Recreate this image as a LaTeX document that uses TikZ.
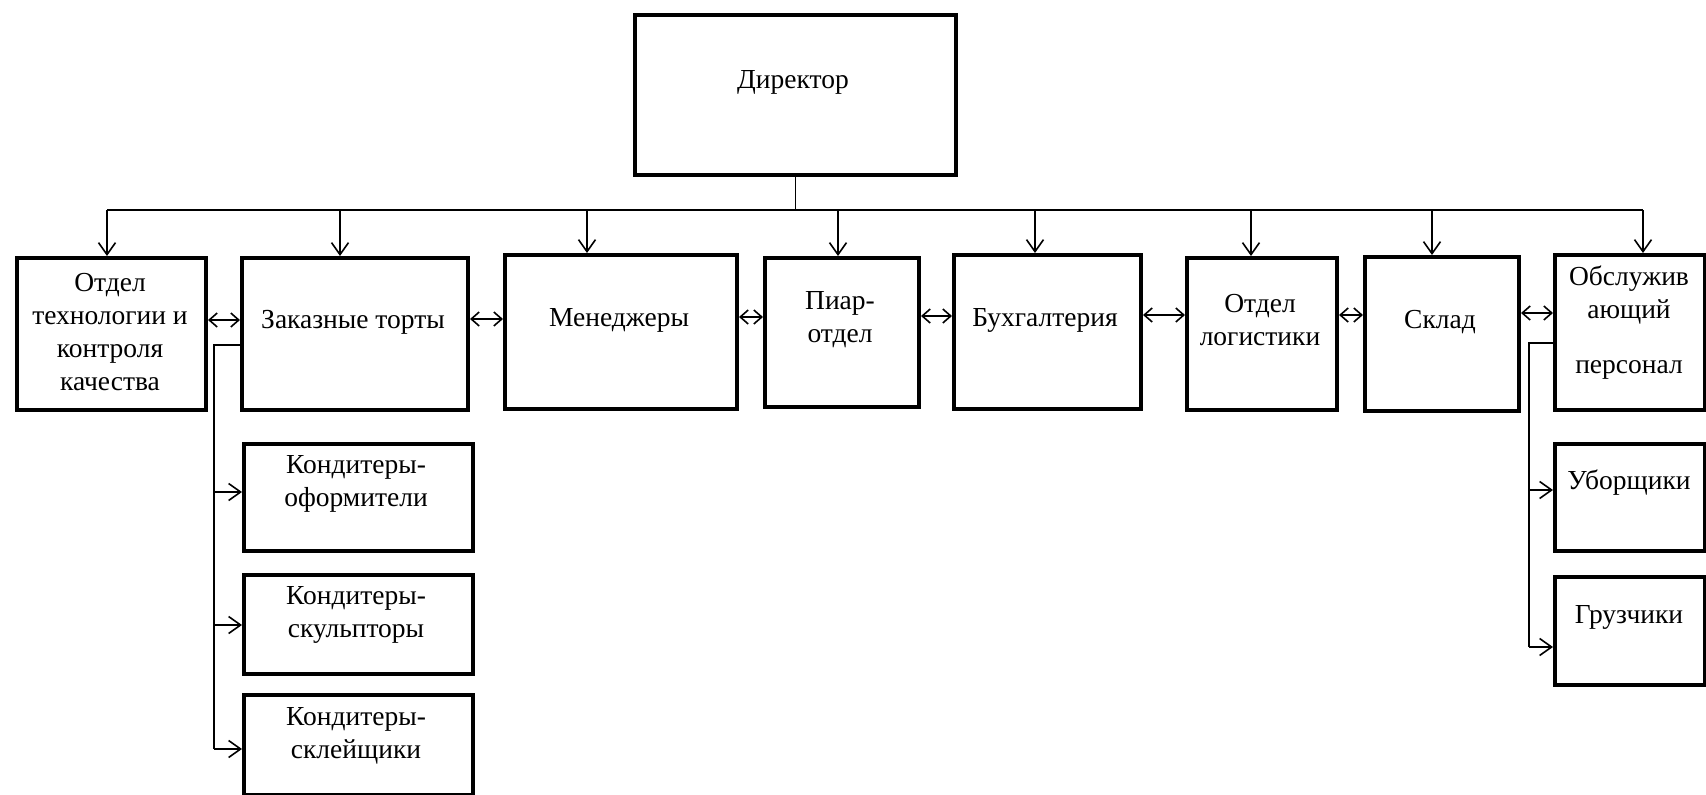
\documentclass[tikz,border=0pt]{standalone}
\usepackage{fontspec}
\setmainfont{Liberation Serif}
\usetikzlibrary{arrows.meta}
\begin{document}
\begin{tikzpicture}[x=1pt,y=-1pt,
  box/.style={draw=black,line width=4pt,inner sep=0pt,anchor=north west,fill=white},
  lbl/.style={align=center,font=\fontsize{27.5}{33}\selectfont,inner sep=0pt},
  line/.style={draw=black,line width=1.6pt},
  arr/.style={line,-{Straight Barb[length=12pt,width=17pt,line width=1.6pt]}},
  darr/.style={line,{Straight Barb[length=8pt,width=14pt,line width=1.6pt]}-{Straight Barb[length=8pt,width=14pt,line width=1.6pt]}}]
\useasboundingbox[fill=white] (0,0) rectangle (1706,795);

% boxes
\node[box,minimum width=321,minimum height=160] (dir) at (633,13) {};
\node[box,minimum width=189,minimum height=152] (m1) at (15,256) {};
\node[box,minimum width=226,minimum height=152] (m2) at (240,256) {};
\node[box,minimum width=232,minimum height=154] (m3) at (503,253) {};
\node[box,minimum width=154,minimum height=149] (m4) at (763,256) {};
\node[box,minimum width=187,minimum height=154] (m5) at (952,253) {};
\node[box,minimum width=150,minimum height=152] (m6) at (1185,256) {};
\node[box,minimum width=154,minimum height=154] (m7) at (1363,255) {};
\node[box,minimum width=150,minimum height=155] (m8) at (1553,253) {};
\node[box,minimum width=229,minimum height=107] (k1) at (242,442) {};
\node[box,minimum width=229,minimum height=99] (k2) at (242,573) {};
\node[box,minimum width=229,minimum height=100] (k3) at (242,693) {};
\node[box,minimum width=150,minimum height=107] (u1) at (1553,442) {};
\node[box,minimum width=150,minimum height=108] (u2) at (1553,575) {};

% texts
\node[lbl] (tdir) at (793,82) {Директор};
\node[lbl] (tm1) at (110,332) {Отдел\\технологии и\\контроля\\качества};
\node[lbl] (tm2) at (353,322) {Заказные торты};
\node[lbl] (tm3) at (619,320) {Менеджеры};
\node[lbl] (tm4) at (840,320) {Пиар-\\отдел};
\node[lbl] (tm5) at (1045,320) {Бухгалтерия};
\node[lbl] (tm6) at (1260,320) {Отдел\\логистики};
\node[lbl] (tm7) at (1440,322) {Склад};
\node[lbl] (tm8) at (1629,323) {Обслужив\\ающий\\[22pt]персонал};
\node[lbl] (tk1) at (356,484) {Кондитеры-\\оформители};
\node[lbl] (tk2) at (356,615) {Кондитеры-\\скульпторы};
\node[lbl] (tk3) at (356,736) {Кондитеры-\\склейщики};
\node[lbl] (tu1) at (1629,483) {Уборщики};
\node[lbl] (tu2) at (1629,617) {Грузчики};

% bus
\coordinate (b1) at (107,210);
\coordinate (b2) at (340,210);
\coordinate (b3) at (587,210);
\coordinate (b4) at (838,210);
\coordinate (b5) at (1035,210);
\coordinate (b6) at (1251,210);
\coordinate (b7) at (1432,210);
\coordinate (b8) at (1643,210);
\draw[line] (dir.south) -- (dir.south |- b1);
\draw[line] (b1) -- (b8);
\draw[arr] (b1) -- (b1 |- m1.north);
\draw[arr] (b2) -- (b2 |- m2.north);
\draw[arr] (b3) -- (b3 |- m3.north);
\draw[arr] (b4) -- (b4 |- m4.north);
\draw[arr] (b5) -- (b5 |- m5.north);
\draw[arr] (b6) -- (b6 |- m6.north);
\draw[arr] (b7) -- (b7 |- m7.north);
\draw[arr] (b8) -- (b8 |- m8.north);

% double arrows
\coordinate (h12) at (0,320);
\coordinate (h23) at (0,319);
\coordinate (h34) at (0,317);
\coordinate (h45) at (0,316);
\coordinate (h56) at (0,315);
\coordinate (h67) at (0,315);
\coordinate (h78) at (0,313);
\draw[darr] (h12 -| m1.east) -- (h12 -| m2.west);
\draw[darr] (h23 -| m2.east) -- (h23 -| m3.west);
\draw[darr] (h34 -| m3.east) -- (h34 -| m4.west);
\draw[darr] (h45 -| m4.east) -- (h45 -| m5.west);
\draw[darr] (h56 -| m5.east) -- (h56 -| m6.west);
\draw[darr] (h67 -| m6.east) -- (h67 -| m7.west);
\draw[darr] (h78 -| m7.east) -- (h78 -| m8.west);

% left sub-tree
\coordinate (kc) at (214,345);
\coordinate (k1a) at (214,492);
\coordinate (k2a) at (214,625);
\coordinate (k3a) at (214,749);
\draw[line] (kc -| m2.west) -- (kc) -- (k3a);
\draw[arr] (k1a) -- (k1a -| k1.west);
\draw[arr] (k2a) -- (k2a -| k2.west);
\draw[arr] (k3a) -- (k3a -| k3.west);

% right sub-tree
\coordinate (sc) at (1529,343);
\coordinate (u1a) at (1529,490);
\coordinate (u2a) at (1529,647);
\draw[line] (sc -| m8.west) -- (sc) -- (u2a);
\draw[arr] (u1a) -- (u1a -| u1.west);
\draw[arr] (u2a) -- (u2a -| u2.west);
\end{tikzpicture}
\end{document}
